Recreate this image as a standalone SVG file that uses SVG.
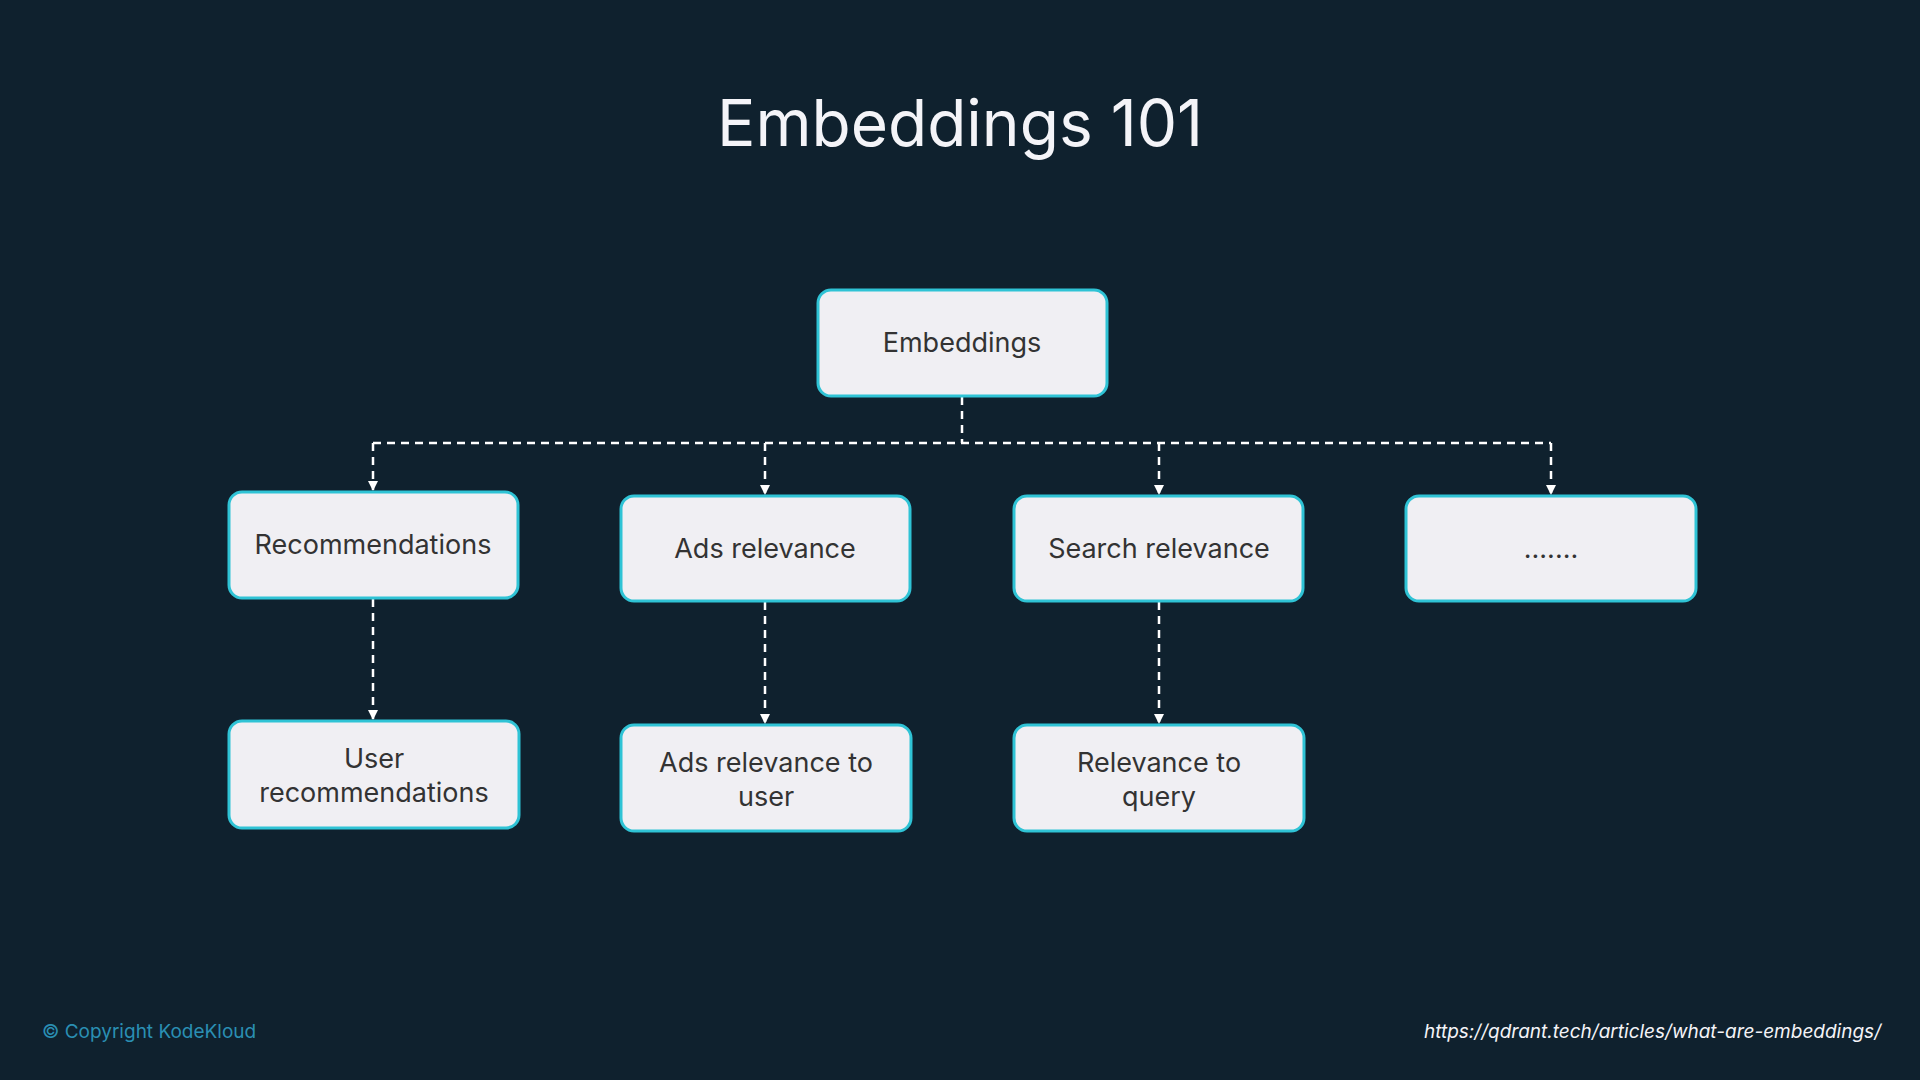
<svg xmlns="http://www.w3.org/2000/svg" width="1920" height="1080" viewBox="0 0 1920 1080">
<defs>
<style>
.box{fill:#f0eff3;stroke:#2fc3d5;stroke-width:3}
.t{font-family:Inter,"Noto Sans",sans-serif;font-size:27px;fill:#333;text-anchor:middle}
.c{stroke:#fff;stroke-width:2.5;stroke-dasharray:8 6;fill:none}
</style>
<marker id="a" markerWidth="10" markerHeight="10" refX="5" refY="8" orient="auto" markerUnits="userSpaceOnUse"><path d="M0,0 L10,0 L5,9 z" fill="#fff" transform="rotate(-90 5 5)"/></marker>
<marker id="ah" markerWidth="10" markerHeight="10" refX="9" refY="5" orient="auto" markerUnits="userSpaceOnUse"><path d="M0,0 L10,5 L0,10 z" fill="#fff"/></marker>
</defs>
<rect width="1920" height="1080" fill="#0f212e"/>
<text x="960" y="146" font-family="Inter,'Noto Sans',sans-serif" font-size="64" fill="#f4f4f8" text-anchor="middle">Embeddings 101</text>
<g id="connectors">
<path class="c" d="M962,397 V443"/>
<path class="c" d="M373,443 H1551"/>
<path class="c" d="M373,443 V490" marker-end="url(#ah)"/>
<path class="c" d="M765,443 V494" marker-end="url(#ah)"/>
<path class="c" d="M1159,443 V494" marker-end="url(#ah)"/>
<path class="c" d="M1551,443 V494" marker-end="url(#ah)"/>
<path class="c" d="M373,599 V719" marker-end="url(#ah)"/>
<path class="c" d="M765,602 V723" marker-end="url(#ah)"/>
<path class="c" d="M1159,602 V723" marker-end="url(#ah)"/>
</g>
<g id="embeddings"><rect class="box" x="818" y="290" width="289" height="106" rx="13"/><text class="t" x="962" y="352">Embeddings</text></g>
<g id="recommendations"><rect class="box" x="229" y="492" width="289" height="106" rx="13"/><text class="t" x="373" y="554">Recommendations</text></g>
<g id="ads"><rect class="box" x="621" y="496" width="289" height="105" rx="13"/><text class="t" x="765" y="558">Ads relevance</text></g>
<g id="search"><rect class="box" x="1014" y="496" width="289" height="105" rx="13"/><text class="t" x="1159" y="558">Search relevance</text></g>
<g id="more"><rect class="box" x="1406" y="496" width="290" height="105" rx="13"/><text class="t" x="1551" y="558">.......</text></g>
<g id="userrec"><rect class="box" x="229" y="721" width="290" height="107" rx="13"/><text class="t" x="374" y="768">User</text><text class="t" x="374" y="802">recommendations</text></g>
<g id="adsuser"><rect class="box" x="621" y="725" width="290" height="106" rx="13"/><text class="t" x="766" y="772">Ads relevance to</text><text class="t" x="766" y="806">user</text></g>
<g id="query"><rect class="box" x="1014" y="725" width="290" height="106" rx="13"/><text class="t" x="1159" y="772">Relevance to</text><text class="t" x="1159" y="806">query</text></g>
<text x="42" y="1038" font-family="Inter,'Noto Sans',sans-serif" font-size="19" fill="#2a8fb3">© Copyright KodeKloud</text>
<text x="1881" y="1038" font-family="Inter,'Noto Sans',sans-serif" font-size="19" font-style="italic" fill="#f4f4f8" text-anchor="end">https://qdrant.tech/articles/what-are-embeddings/</text>
</svg>
